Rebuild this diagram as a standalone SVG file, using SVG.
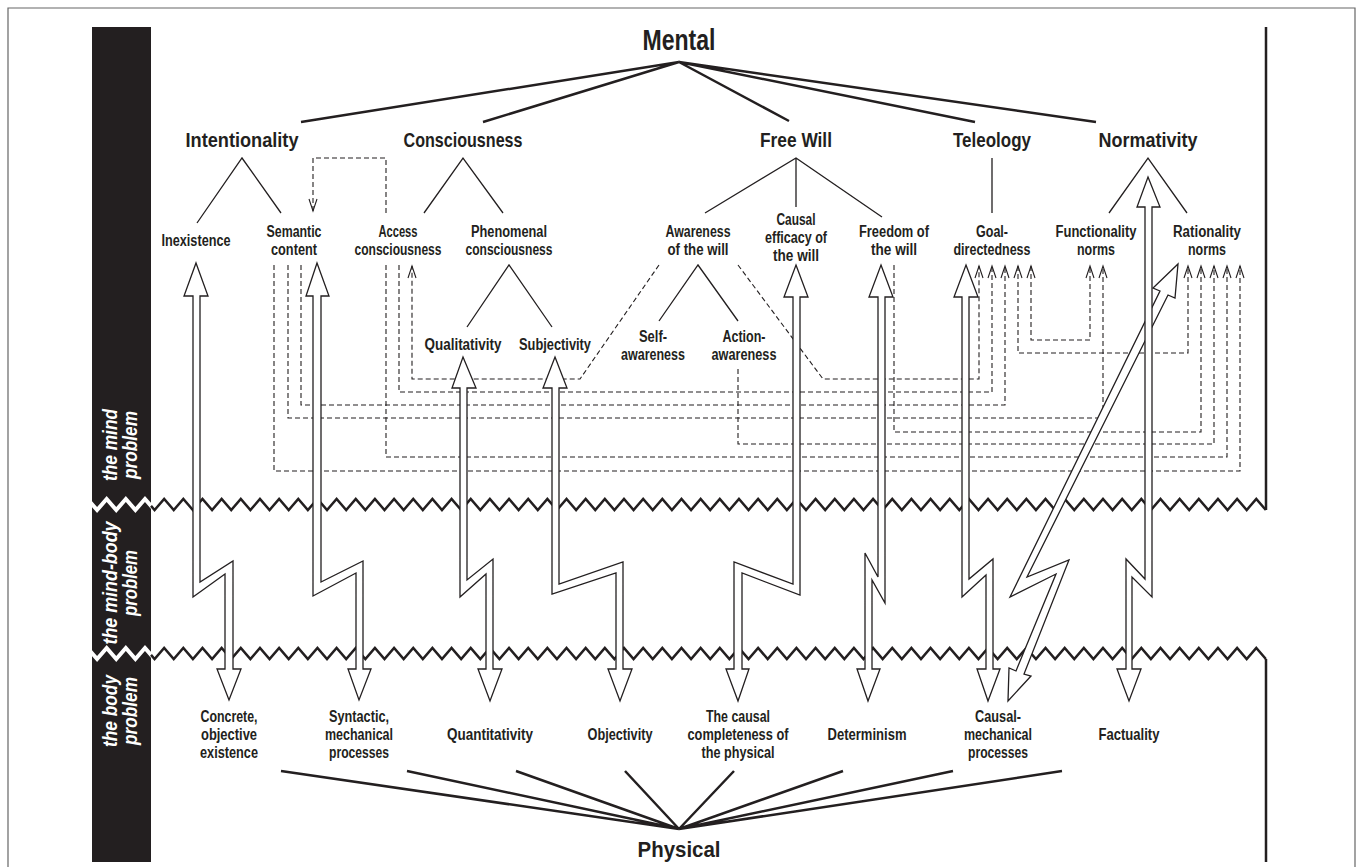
<svg xmlns="http://www.w3.org/2000/svg" xmlns:xlink="http://www.w3.org/1999/xlink" width="1357" height="867" viewBox="0 0 1357 867">
<style>
text{font-family:'Liberation Sans',Arial,sans-serif;font-weight:bold;text-anchor:middle}
.t{fill:#231f20}
.h{font-size:21px}
.s{font-size:16px}
.b{font-size:16.5px}
.bar{font-style:italic;font-size:21px;fill:#fff}
.thick{stroke:#231f20;stroke-width:2.5;fill:none}
.thin{stroke:#231f20;stroke-width:1.3;fill:none}
.dash{stroke:#231f20;stroke-width:1.1;fill:none;stroke-dasharray:5 3}
.arr{fill:#fff;stroke:#231f20;stroke-width:1.3;stroke-linejoin:miter}
.zz{stroke:#231f20;stroke-width:2.5;fill:none;stroke-linejoin:miter}
</style>
<defs>
<marker id="ah" viewBox="-13 -5 14 10" refX="0" refY="0" markerWidth="14" markerHeight="10" markerUnits="userSpaceOnUse" orient="auto-start-reverse" overflow="visible"><path d="M-12,-4 L0,0 L-12,4" fill="none" stroke="#231f20" stroke-width="1.1"/></marker>
<clipPath id="zclip"><rect x="150" y="0" width="1117.5" height="867"/></clipPath>
<path id="zz" d="M151,6.9 L154.58,11 l9.58,-11 9.58,11 9.58,-11 9.58,11 9.58,-11 9.58,11 9.58,-11 9.58,11 9.58,-11 9.58,11 9.58,-11 9.58,11 9.58,-11 9.58,11 9.58,-11 9.58,11 9.58,-11 9.58,11 9.58,-11 9.58,11 9.58,-11 9.58,11 9.58,-11 9.58,11 9.58,-11 9.58,11 9.58,-11 9.58,11 9.58,-11 9.58,11 9.58,-11 9.58,11 9.58,-11 9.58,11 9.58,-11 9.58,11 9.58,-11 9.58,11 9.58,-11 9.58,11 9.58,-11 9.58,11 9.58,-11 9.58,11 9.58,-11 9.58,11 9.58,-11 9.58,11 9.58,-11 9.58,11 9.58,-11 9.58,11 9.58,-11 9.58,11 9.58,-11 9.58,11 9.58,-11 9.58,11 9.58,-11 9.58,11 9.58,-11 9.58,11 9.58,-11 9.58,11 9.58,-11 9.58,11 9.58,-11 9.58,11 9.58,-11 9.58,11 9.58,-11 9.58,11 9.58,-11 9.58,11 9.58,-11 9.58,11 9.58,-11 9.58,11 9.58,-11 9.58,11 9.58,-11 9.58,11 9.58,-11 9.58,11 9.58,-11 9.58,11 9.58,-11 9.58,11 9.58,-11 9.58,11 9.58,-11 9.58,11 9.58,-11 9.58,11 9.58,-11 9.58,11 9.58,-11 9.58,11 9.58,-11 9.58,11 9.58,-11 9.58,11 9.58,-11 9.58,11 9.58,-11 9.58,11 9.58,-11 9.58,11 9.58,-11 9.58,11 9.58,-11 9.58,11 9.58,-11 9.58,11 9.58,-11 9.58,11"/>
<path id="zzw" d="M87.5,0 l9.58,11 9.58,-11 9.58,11 9.58,-11 9.58,11 9.58,-11 L151,6.9 L154.58,11"/>
</defs>

<g id="frame">
<path d="M8,867 V8 H1355 V867" fill="none" stroke="#666" stroke-width="1.2"/>
<rect x="92" y="27" width="59" height="835" fill="#231f20"/>
<use xlink:href="#zzw" href="#zzw" transform="translate(0,499)" fill="none" stroke="#fff" stroke-width="4"/>
<use xlink:href="#zzw" href="#zzw" transform="translate(0,648)" fill="none" stroke="#fff" stroke-width="4"/>
<g clip-path="url(#zclip)">
<use xlink:href="#zz" href="#zz" transform="translate(0,499)" class="zz"/>
<use xlink:href="#zz" href="#zz" transform="translate(0,648)" class="zz"/>
</g>
<path class="thick" d="M1266,27 V510 M1266,659 V862"/>
<text class="bar" transform="translate(117,445) rotate(-90)" textLength="72" lengthAdjust="spacingAndGlyphs">the mind</text>
<text class="bar" transform="translate(137,445) rotate(-90)" textLength="68" lengthAdjust="spacingAndGlyphs">problem</text>
<text class="bar" transform="translate(117,583) rotate(-90)" textLength="123" lengthAdjust="spacingAndGlyphs">the mind-body</text>
<text class="bar" transform="translate(137,583) rotate(-90)" textLength="66" lengthAdjust="spacingAndGlyphs">problem</text>
<text class="bar" transform="translate(117,711) rotate(-90)" textLength="72" lengthAdjust="spacingAndGlyphs">the body</text>
<text class="bar" transform="translate(137,711) rotate(-90)" textLength="68" lengthAdjust="spacingAndGlyphs">problem</text>
</g>

<g id="connectors">
<path class="thick" d="M679,62 L301,122 M679,62 L483,122 M679,62 L789,121 M679,62 L975,122 M679,62 L1096,122"/>
<path class="thin" d="M197,223 L242,158 L281,213 M424,213 L463,158 L503,213 M705,213 L796,158 L882,217 M796,158 V207 M992,158 V213 M1109,213 L1148,158 L1187,213 M467,327 L509,265 L552,327 M659,321 L698,265 L738,321"/>
<path class="thick" d="M679,829 L281,771 M679,829 L407,771 M679,829 L516,771 M679,829 L625,771 M679,829 L734,771 M679,829 L843,771 M679,829 L953,771 M679,829 L1062,771"/>

<path class="dash" marker-end="url(#ah)" d="M386,213 V158 H313 V211"/>
<path class="dash" marker-end="url(#ah)" d="M274,265 V471 H1240 V266"/>
<path class="dash" marker-end="url(#ah)" d="M288,265 V418 H1103 V266"/>
<path class="dash" marker-end="url(#ah)" d="M301,265 V405 H1005 V266"/>
<path class="dash" marker-end="url(#ah)" d="M386,265 V457 H1227 V266"/>
<path class="dash" marker-end="url(#ah)" d="M399,265 V392 H992 V266"/>
<path class="dash" marker-end="url(#ah)" d="M659,265 L580,379 H412 V266"/>
<path class="dash" marker-end="url(#ah)" d="M738,265 L823,379 H979 V266"/>
<path class="dash" marker-end="url(#ah)" d="M738,369 V444 H1214 V266"/>
<path class="dash" marker-end="url(#ah)" d="M894,265 V432 H1201 V266"/>
<path class="dash" marker-start="url(#ah)" marker-end="url(#ah)" d="M1018,266 V353 H1188 V266"/>
<path class="dash" marker-start="url(#ah)" marker-end="url(#ah)" d="M1031,266 V340 H1090 V266"/>

<path class="arr" d="M196,263 L208,296 L200,296 L200,582 L233,561 L233,669 L241,669 L229,700 L217,669 L225,669 L225,574 L193,597 L193,296 L184,296 Z"/>
<path class="arr" d="M317,263 L329,296 L321,296 L321,582 L363,561 L363,669 L371,669 L359,700 L348,669 L356,669 L356,573 L313,596 L313,296 L306,296 Z"/>
<path class="arr" d="M463,357 L476,388 L467,388 L467,580 L493,559 L493,669 L502,669 L490,701 L478,669 L486,669 L486,574 L460,597 L460,388 L452,388 Z"/>
<path class="arr" d="M555,357 L567,388 L559,388 L559,584 L623,562 L623,669 L632,669 L620,701 L608,669 L616,669 L616,573 L552,594 L552,388 L543,388 Z"/>
<path class="arr" d="M796,265 L808,297 L800,297 L800,595 L742,573 L742,669 L749,669 L738,701 L726,669 L734,669 L734,562 L793,584 L793,297 L784,297 Z"/>
<path class="arr" d="M881,265 L893,297 L885,297 L885,603 L872,580 L872,669 L880,669 L868,701 L857,669 L865,669 L865,553 L878,577 L878,297 L869,297 Z"/>
<path class="arr" d="M966,265 L978,297 L969,297 L969,579 L993,559 L993,669 L1000,669 L988,701 L977,669 L986,669 L986,575 L962,597 L962,297 L954,297 Z"/>
<path class="arr" d="M1178,264 L1175,298 L1168,295 L1027,577 L1069,560 L1024,674 L1031,676 L1008,701 L1009,668 L1016,671 L1056,574 L1010,597 L1160,291 L1153,288 Z"/>
<path class="arr" d="M1148,177 L1160,207 L1152,207 L1152,597 L1132,577 L1132,669 L1141,669 L1129,701 L1117,669 L1126,669 L1126,559 L1145,579 L1145,207 L1137,207 Z"/>
</g>

<g id="mental"><text class="t" style="font-size:29px" x="679" y="50" textLength="73" lengthAdjust="spacingAndGlyphs">Mental</text></g>
<g id="physical"><text class="t" style="font-size:22px" x="679" y="857" textLength="83" lengthAdjust="spacingAndGlyphs">Physical</text></g>

<g id="intentionality"><text class="t h" x="242" y="147" textLength="113" lengthAdjust="spacingAndGlyphs">Intentionality</text></g>
<g id="consciousness"><text class="t h" x="463" y="147" textLength="119" lengthAdjust="spacingAndGlyphs">Consciousness</text></g>
<g id="free-will"><text class="t h" x="796" y="147" textLength="72" lengthAdjust="spacingAndGlyphs">Free Will</text></g>
<g id="teleology"><text class="t h" x="992" y="147" textLength="78" lengthAdjust="spacingAndGlyphs">Teleology</text></g>
<g id="normativity"><text class="t h" x="1148" y="147" textLength="99" lengthAdjust="spacingAndGlyphs">Normativity</text></g>

<g id="inexistence"><text class="t s" x="196" y="246" textLength="69" lengthAdjust="spacingAndGlyphs">Inexistence</text></g>
<g id="semantic-content"><text class="t s" x="294" y="237" textLength="55" lengthAdjust="spacingAndGlyphs">Semantic</text><text class="t s" x="294" y="255" textLength="46" lengthAdjust="spacingAndGlyphs">content</text></g>
<g id="access-consciousness"><text class="t s" x="398" y="237" textLength="39" lengthAdjust="spacingAndGlyphs">Access</text><text class="t s" x="398" y="255" textLength="87" lengthAdjust="spacingAndGlyphs">consciousness</text></g>
<g id="phenomenal-consciousness"><text class="t s" x="509" y="237" textLength="76" lengthAdjust="spacingAndGlyphs">Phenomenal</text><text class="t s" x="509" y="255" textLength="87" lengthAdjust="spacingAndGlyphs">consciousness</text></g>
<g id="awareness-of-the-will"><text class="t s" x="698" y="237" textLength="65" lengthAdjust="spacingAndGlyphs">Awareness</text><text class="t s" x="698" y="255" textLength="61" lengthAdjust="spacingAndGlyphs">of the will</text></g>
<g id="causal-efficacy"><text class="t s" x="796" y="225" textLength="39" lengthAdjust="spacingAndGlyphs">Causal</text><text class="t s" x="796" y="243" textLength="62" lengthAdjust="spacingAndGlyphs">efficacy of</text><text class="t s" x="796" y="261" textLength="46" lengthAdjust="spacingAndGlyphs">the will</text></g>
<g id="freedom-of-the-will"><text class="t s" x="894" y="237" textLength="70" lengthAdjust="spacingAndGlyphs">Freedom of</text><text class="t s" x="894" y="255" textLength="46" lengthAdjust="spacingAndGlyphs">the will</text></g>
<g id="goal-directedness"><text class="t s" x="992" y="237" textLength="32" lengthAdjust="spacingAndGlyphs">Goal-</text><text class="t s" x="992" y="255" textLength="77" lengthAdjust="spacingAndGlyphs">directedness</text></g>
<g id="functionality-norms"><text class="t s" x="1096" y="237" textLength="81" lengthAdjust="spacingAndGlyphs">Functionality</text><text class="t s" x="1096" y="255" textLength="38" lengthAdjust="spacingAndGlyphs">norms</text></g>
<g id="rationality-norms"><text class="t s" x="1207" y="237" textLength="68" lengthAdjust="spacingAndGlyphs">Rationality</text><text class="t s" x="1207" y="255" textLength="38" lengthAdjust="spacingAndGlyphs">norms</text></g>
<g id="qualitativity"><text class="t s" x="463" y="350" textLength="77" lengthAdjust="spacingAndGlyphs">Qualitativity</text></g>
<g id="subjectivity"><text class="t s" x="555" y="350" textLength="72" lengthAdjust="spacingAndGlyphs">Subjectivity</text></g>
<g id="self-awareness"><text class="t s" x="653" y="342" textLength="28" lengthAdjust="spacingAndGlyphs">Self-</text><text class="t s" x="653" y="360" textLength="64" lengthAdjust="spacingAndGlyphs">awareness</text></g>
<g id="action-awareness"><text class="t s" x="744" y="342" textLength="43" lengthAdjust="spacingAndGlyphs">Action-</text><text class="t s" x="744" y="360" textLength="65" lengthAdjust="spacingAndGlyphs">awareness</text></g>

<g id="concrete-existence"><text class="t b" x="229" y="722" textLength="57" lengthAdjust="spacingAndGlyphs">Concrete,</text><text class="t b" x="229" y="740" textLength="56" lengthAdjust="spacingAndGlyphs">objective</text><text class="t b" x="229" y="758" textLength="58" lengthAdjust="spacingAndGlyphs">existence</text></g>
<g id="syntactic-processes"><text class="t b" x="359" y="722" textLength="60" lengthAdjust="spacingAndGlyphs">Syntactic,</text><text class="t b" x="359" y="740" textLength="68" lengthAdjust="spacingAndGlyphs">mechanical</text><text class="t b" x="359" y="758" textLength="60" lengthAdjust="spacingAndGlyphs">processes</text></g>
<g id="quantitativity"><text class="t b" x="490" y="740" textLength="86" lengthAdjust="spacingAndGlyphs">Quantitativity</text></g>
<g id="objectivity"><text class="t b" x="620" y="740" textLength="65" lengthAdjust="spacingAndGlyphs">Objectivity</text></g>
<g id="causal-completeness"><text class="t b" x="738" y="722" textLength="64" lengthAdjust="spacingAndGlyphs">The causal</text><text class="t b" x="738" y="740" textLength="101" lengthAdjust="spacingAndGlyphs">completeness of</text><text class="t b" x="738" y="758" textLength="73" lengthAdjust="spacingAndGlyphs">the physical</text></g>
<g id="determinism"><text class="t b" x="867" y="740" textLength="79" lengthAdjust="spacingAndGlyphs">Determinism</text></g>
<g id="causal-mechanical"><text class="t b" x="998" y="722" textLength="46" lengthAdjust="spacingAndGlyphs">Causal-</text><text class="t b" x="998" y="740" textLength="68" lengthAdjust="spacingAndGlyphs">mechanical</text><text class="t b" x="998" y="758" textLength="60" lengthAdjust="spacingAndGlyphs">processes</text></g>
<g id="factuality"><text class="t b" x="1129" y="740" textLength="61" lengthAdjust="spacingAndGlyphs">Factuality</text></g>
</svg>
